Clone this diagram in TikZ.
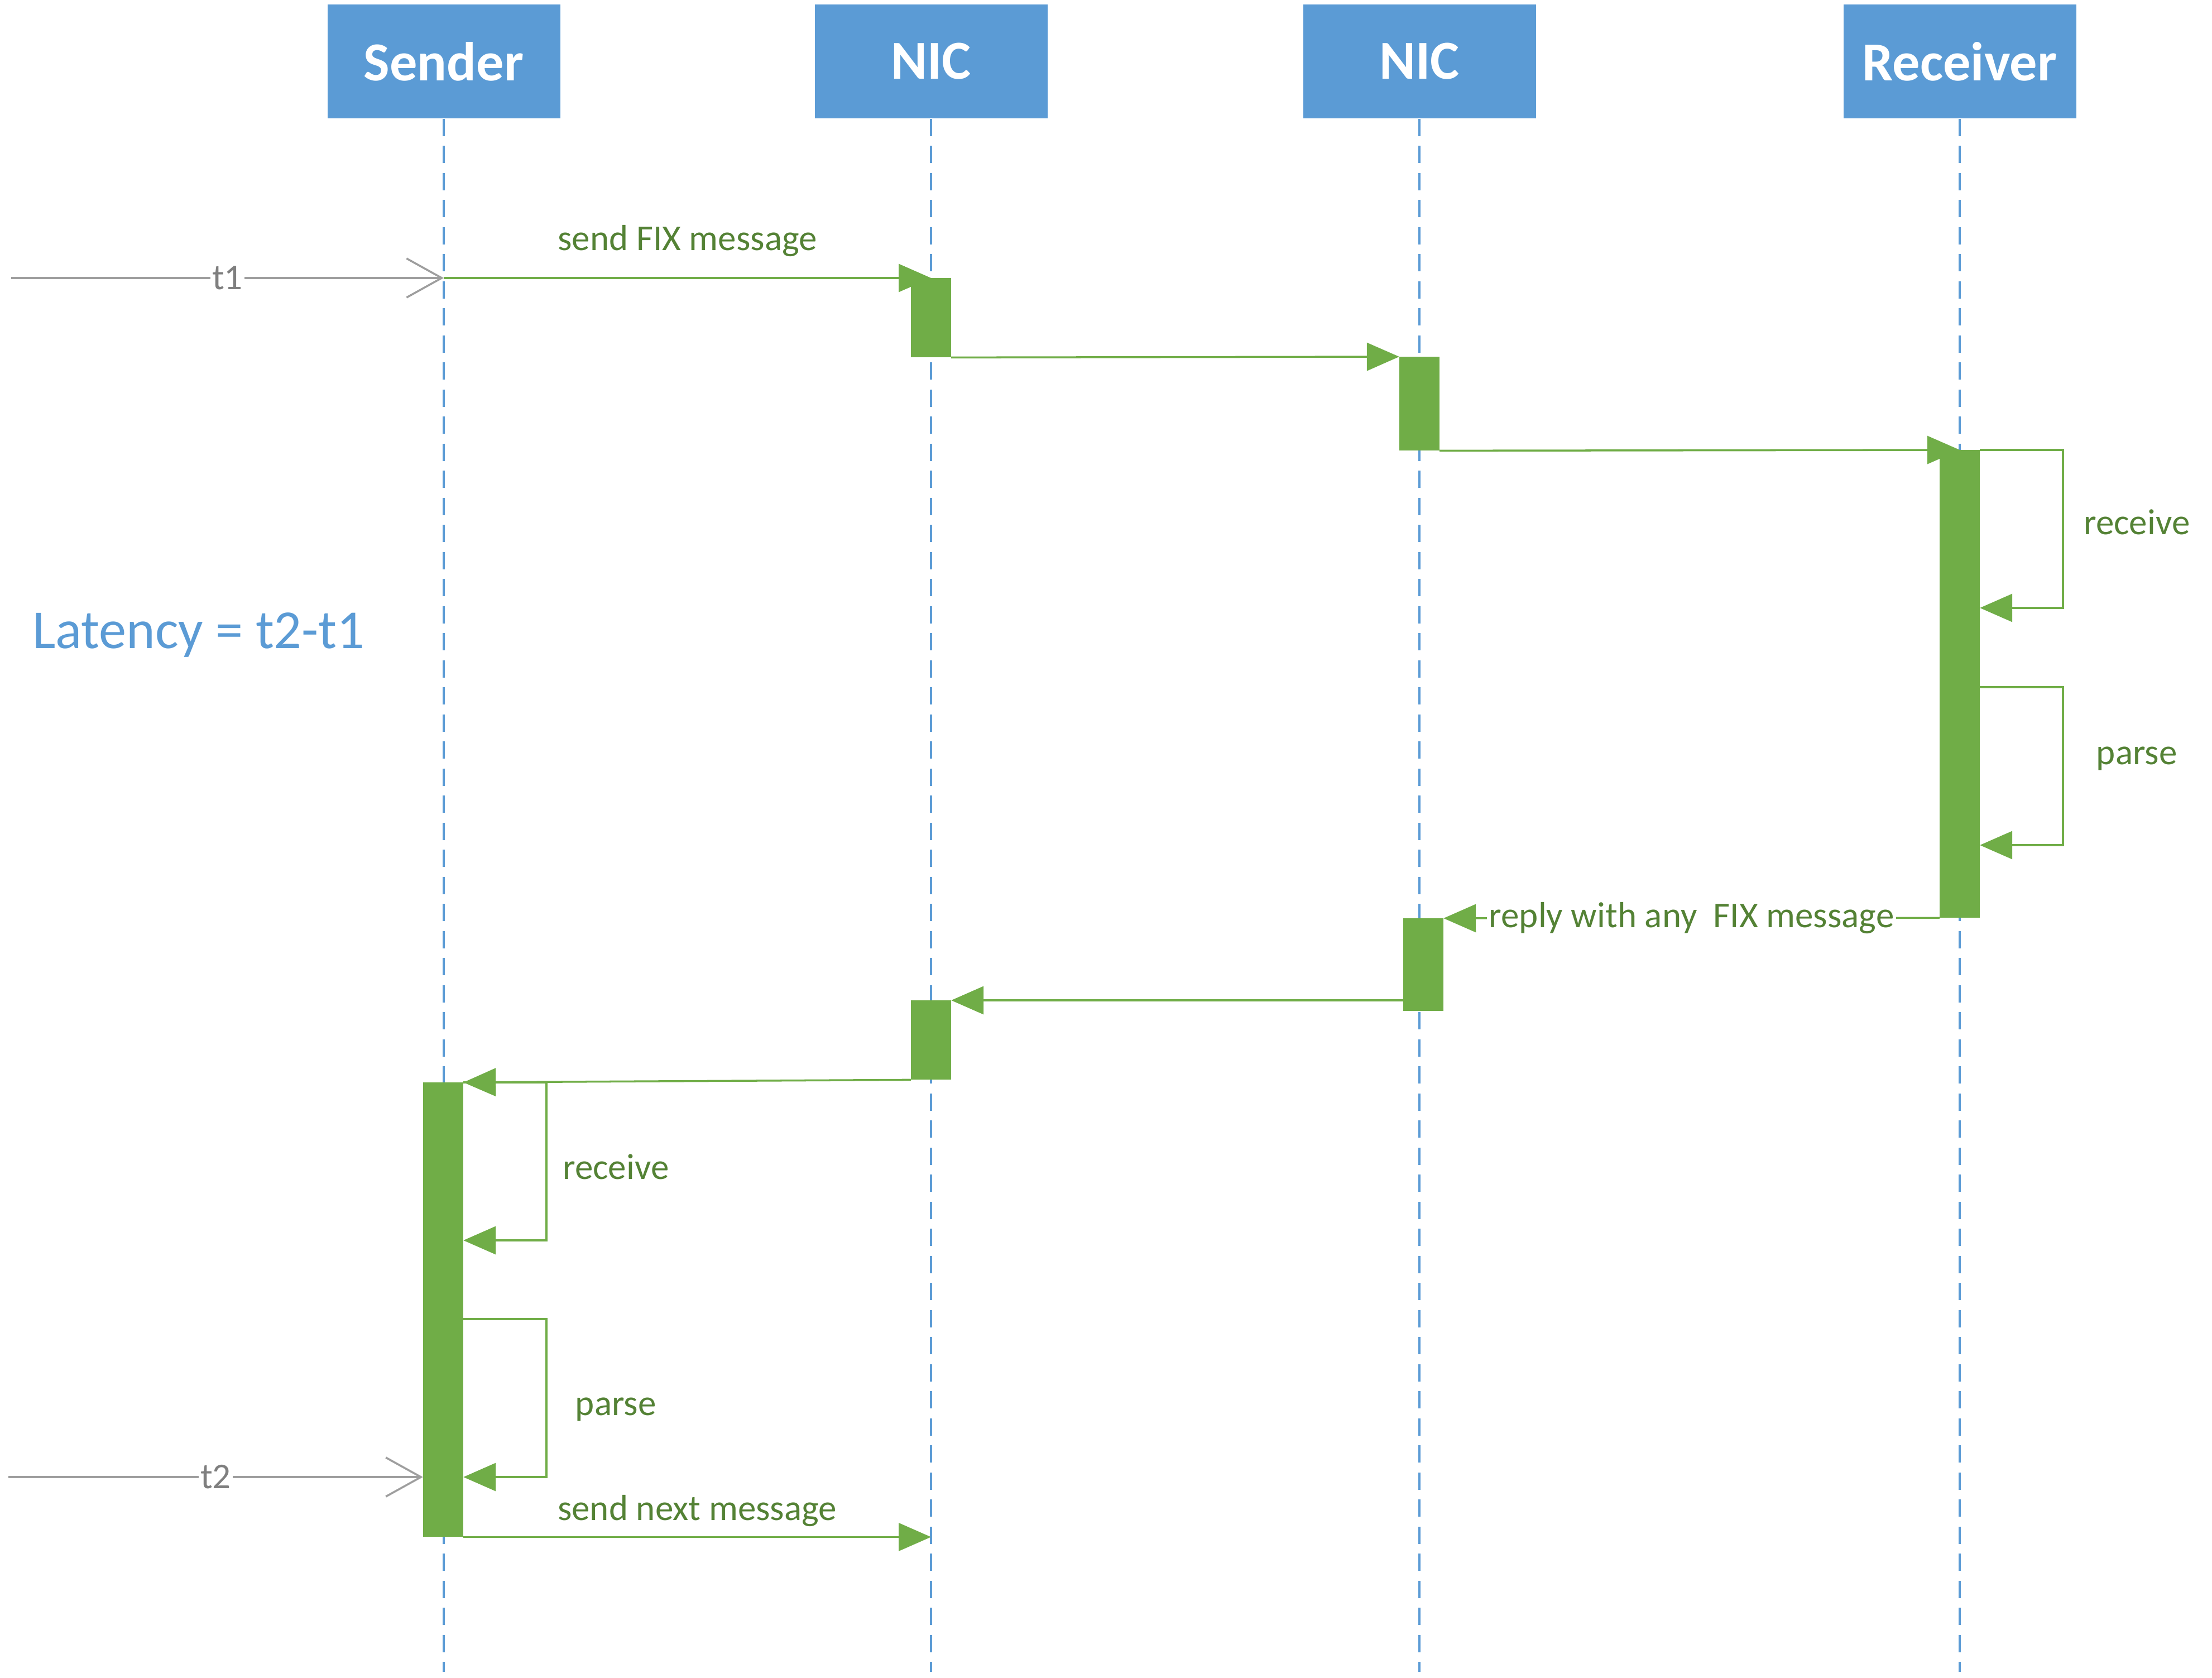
\documentclass[tikz,border=0pt]{standalone}
\usepackage{fontspec}
\setmainfont{Carlito}
\usetikzlibrary{arrows.meta}
\definecolor{lblue}{HTML}{5B9BD5}
\definecolor{lgreen}{HTML}{70AD47}
\definecolor{dgreen}{HTML}{548235}
\definecolor{tgray}{HTML}{9E9E9E}
\definecolor{tlabel}{HTML}{7F7F7F}
\tikzset{
  head/.style={fill=lblue, text=white, font=\bfseries\fontsize{28}{30}\selectfont,
    minimum width=4.17cm, minimum height=2.04cm, inner sep=0pt},
  life/.style={draw=lblue, line width=0.9pt, dash pattern=on 8.8pt off 5pt},
  act/.style={fill=lgreen, draw=lgreen, minimum width=0.71cm, inner sep=0pt, anchor=north},
  msg/.style={draw=lgreen, line width=1pt, -{Triangle[length=0.58cm,width=0.5cm]}},
  lbl/.style={text=dgreen, font=\fontsize{18.5}{20}\selectfont},
  tick/.style={draw=tgray, line width=1pt, -{Straight Barb[length=0.63cm,width=0.7cm]}},
  ticklbl/.style={text=tlabel, fill=white, inner sep=1pt, font=\fontsize{18.5}{20}\selectfont},
}
\begin{document}
\begin{tikzpicture}
  \useasboundingbox (0,0) rectangle (39.63,-30.06);

  % lifelines
  \node[head] (snd) at (7.95,-1.10) {Sender};
  \node[head] (nic1) at (16.68,-1.10) {NIC};
  \node[head] (nic2) at (25.43,-1.10) {NIC};
  \node[head] (rcv) at (35.11,-1.10) {Receiver};
  \coordinate (sndend) at (7.95,-29.95);
  \coordinate (nic1end) at (16.68,-29.95);
  \coordinate (nic2end) at (25.43,-29.95);
  \coordinate (rcvend) at (35.11,-29.95);
  \draw[life] (snd.south) -- (sndend);
  \draw[life] (nic1.south) -- (nic1end);
  \draw[life] (nic2.south) -- (nic2end);
  \draw[life] (rcv.south) -- (rcvend);

  % activations
  \node[act, minimum height=1.41cm] (n1a) at (16.68,-4.98) {};
  \node[act, minimum height=1.67cm] (n2a) at (25.43,-6.39) {};
  \node[act, minimum height=8.37cm] (ra) at (35.11,-8.06) {};
  \node[act, minimum height=1.65cm] (n2b) at (25.50,-16.45) {};
  \node[act, minimum height=1.41cm] (n1b) at (16.68,-17.92) {};
  \node[act, minimum height=8.13cm] (sa) at (7.94,-19.39) {};

  \node[text=lblue, font=\fontsize{28}{30}\selectfont] (lat) at (3.56,-11.37) {Latency = t2-t1};

  % t1
  \coordinate (t1start) at (0.20,-4.98);
  \coordinate (s1) at (7.95,-4.98);
  \draw[tick] (t1start) -- (s1) node[ticklbl, midway] {t1};

  % messages
  \draw[msg] (s1) -- (n1a.north) node[lbl, midway, above=0.25cm] {send FIX message};
  \draw[msg] (n1a.south east) -- (n2a.north west);
  \draw[msg] (n2a.south east) -- (ra.north);
  \draw[msg] (ra.north east) -- ++(1.49,0) coordinate (rl1)
    -- (rl1 |- 0,-10.89) node[lbl, midway, xshift=1.32cm, yshift=0.12cm] {receive}
    -- (ra.east |- 0,-10.89);
  \draw[msg] (ra.east |- 0,-12.31) -- ++(1.49,0) coordinate (rl2)
    -- (rl2 |- 0,-15.14) node[lbl, midway, xshift=1.32cm, yshift=0.14cm] {parse}
    -- (ra.east |- 0,-15.14);
  \draw[msg] (ra.south west) -- (n2b.north east)
    node[lbl, midway, fill=white, inner sep=1pt] {reply with any\ \ FIX message};
  \draw[msg] (n2b.west |- n1b.north) -- (n1b.north east);
  \draw[msg] (n1b.south west) -- (sa.north east);
  \draw[msg] (sa.north east) -- ++(1.49,0) coordinate (sl1)
    -- (sl1 |- 0,-22.22) node[lbl, midway, xshift=1.24cm, yshift=-0.1cm] {receive}
    -- (sa.east |- 0,-22.22);
  \draw[msg] (sa.east |- 0,-23.63) -- ++(1.49,0) coordinate (sl2)
    -- (sl2 |- 0,-26.46) node[lbl, midway, xshift=1.24cm, yshift=-0.2cm] {parse}
    -- (sa.east |- 0,-26.46);
  \draw[msg] (sa.south east) -- (nic1.south |- sa.south)
    node[lbl, midway, above=0.05cm] {send next message};

  % t2
  \coordinate (t2start) at (0.15,-26.46);
  \draw[tick] (t2start) -- (sa.west |- t2start) node[ticklbl, midway] {t2};
\end{tikzpicture}
\end{document}
